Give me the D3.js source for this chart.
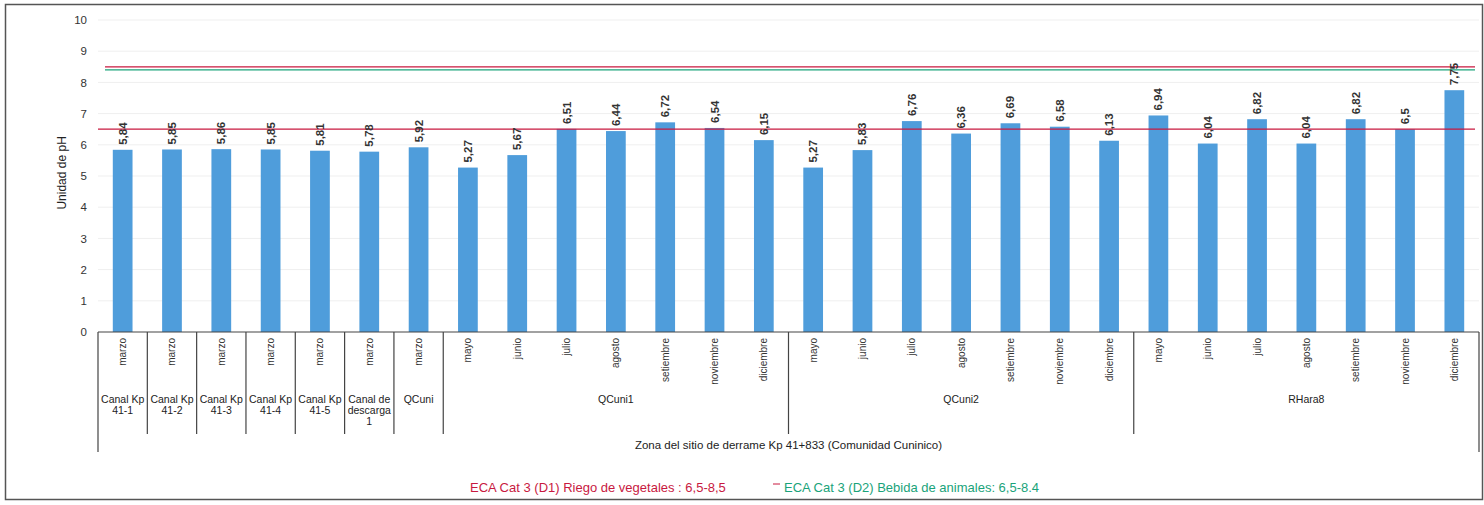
<!DOCTYPE html>
<html>
<head>
<meta charset="utf-8">
<script src="https://cdn.jsdelivr.net/npm/d3@7"></script>
<style>
  body { margin: 0; background: #fff; }
  svg { display: block; font-family: "Liberation Sans", Arial, sans-serif; }
</style>
</head>
<body>
<div id="wrapper"></div>
<script>
// 1. Data
const stations = ["Canal Kp 41-1", "Canal Kp 41-2", "Canal Kp 41-3", "Canal Kp 41-4", "Canal Kp 41-5",
                  "Canal de descarga 1", "QCuni", "QCuni1", "QCuni2", "RHara8"]
const stationLines = [["Canal Kp", "41-1"], ["Canal Kp", "41-2"], ["Canal Kp", "41-3"], ["Canal Kp", "41-4"],
                      ["Canal Kp", "41-5"], ["Canal de", "descarga", "1"], ["QCuni"], ["QCuni1"], ["QCuni2"], ["RHara8"]]
const stationMonths = [
  ["marzo"], ["marzo"], ["marzo"], ["marzo"], ["marzo"], ["marzo"], ["marzo"],
  ["mayo", "junio", "julio", "agosto", "setiembre", "noviembre", "diciembre"],
  ["mayo", "junio", "julio", "agosto", "setiembre", "noviembre", "diciembre"],
  ["mayo", "junio", "julio", "agosto", "setiembre", "noviembre", "diciembre"]
]
const phValues = [
  [5.84], [5.85], [5.86], [5.85], [5.81], [5.78], [5.92],
  [5.27, 5.67, 6.51, 6.44, 6.72, 6.54, 6.15],
  [5.27, 5.83, 6.76, 6.36, 6.69, 6.58, 6.13],
  [6.94, 6.04, 6.82, 6.04, 6.82, 6.5, 7.75]
]
const yTicks = [0, 1, 2, 3, 4, 5, 6, 7, 8, 9, 10]
const zoneLabel = "Zona del sitio de derrame Kp 41+833  (Comunidad Cuninico)"
const limits = [
  {name: "ECA Cat 3 (D1) Riego de vegetales : 6,5-8,5", low: 6.5, high: 8.5, color: "#c8193f"},
  {name: "ECA Cat 3 (D2) Bebida de animales: 6,5-8.4", low: 6.5, high: 8.4, color: "#1aa37a"}
]

// flatten into one row per bar
const dataset = []
stations.forEach((s, i) => {
  stationMonths[i].forEach((m, j) => {
    dataset.push({key: s + "|" + m, station: s, month: m, value: phValues[i][j]})
  })
})

// 2. Dimensions
const dimensions = {
  width: 1484,
  height: 505,
  margin: {top: 20, right: 5, bottom: 173, left: 98},
}
dimensions.boundedWidth = 1479 - dimensions.margin.left
dimensions.boundedHeight = 332 - dimensions.margin.top

// 3. Canvas
const wrapper = d3.select("#wrapper")
  .append("svg")
  .attr("width", dimensions.width)
  .attr("height", dimensions.height)

wrapper.append("rect")
  .attr("x", 5.5).attr("y", 4.5)
  .attr("width", 1477).attr("height", 495)
  .attr("fill", "none")
  .attr("stroke", "#555")
  .attr("stroke-width", 1.5)

const bounds = wrapper.append("g")
  .attr("transform", `translate(${dimensions.margin.left},${dimensions.margin.top})`)

// 4. Scales
const xScale = d3.scaleBand()
  .domain(dataset.map(d => d.key))
  .range([0, dimensions.boundedWidth])
  .paddingInner(0.6)
  .paddingOuter(0.3)

const yScale = d3.scaleLinear()
  .domain([0, 10])
  .range([dimensions.boundedHeight, 0])

const step = xScale.step()

// gridlines
bounds.append("g")
  .selectAll("line")
  .data(yTicks.slice(1))
  .join("line")
  .attr("x1", 0).attr("x2", dimensions.boundedWidth)
  .attr("y1", d => yScale(d)).attr("y2", d => yScale(d))
  .attr("stroke", "#efefef")

// 5. Bars
bounds.append("g")
  .selectAll("rect")
  .data(dataset)
  .join("rect")
  .attr("x", d => xScale(d.key))
  .attr("y", d => yScale(d.value))
  .attr("width", xScale.bandwidth())
  .attr("height", d => yScale(0) - yScale(d.value))
  .attr("fill", "#4f9ddb")

// limit lines
const lineX0 = 0, lineX1 = dimensions.boundedWidth - 4
bounds.append("line")
  .attr("x1", lineX0 + 7).attr("x2", lineX1)
  .attr("y1", yScale(limits[0].high)).attr("y2", yScale(limits[0].high))
  .attr("stroke", limits[0].color).attr("stroke-width", 1.3)
bounds.append("line")
  .attr("x1", lineX0 + 7).attr("x2", lineX1)
  .attr("y1", yScale(limits[1].high)).attr("y2", yScale(limits[1].high))
  .attr("stroke", limits[1].color).attr("stroke-width", 1.3)
bounds.append("line")
  .attr("x1", lineX0).attr("x2", lineX1)
  .attr("y1", yScale(limits[0].low)).attr("y2", yScale(limits[0].low))
  .attr("stroke", limits[0].color).attr("stroke-width", 1.3)

// data labels
bounds.append("g")
  .selectAll("text")
  .data(dataset)
  .join("text")
  .attr("transform", d => `translate(${xScale(d.key) + xScale.bandwidth() / 2 + 4},${yScale(d.value) - 5}) rotate(-90)`)
  .attr("font-family", "'Liberation Sans Narrow', 'Arial Narrow', 'Liberation Sans', sans-serif")
  .attr("font-size", 11.5)
  .attr("font-weight", "bold")
  .attr("fill", "#333")
  .text(d => String(d.value).replace(".", ","))

// 6. Axes
const yAxisGenerator = d3.axisLeft(yScale)
  .tickValues(yTicks)
  .tickSize(0)
  .tickPadding(11)
const yAxis = bounds.append("g").call(yAxisGenerator)
yAxis.select(".domain").remove()
yAxis.selectAll("text")
  .attr("font-size", 11.5)
  .attr("font-family", "'Liberation Sans', Arial, sans-serif")
  .attr("fill", "#333")

yAxis.append("text")
  .attr("transform", `translate(-32,${yScale(5.1)}) rotate(-90)`)
  .attr("text-anchor", "middle")
  .attr("fill", "#222")
  .attr("font-size", 12)
  .text("Unidad de pH")

// category axis: baseline, month labels, separators
const catAxis = bounds.append("g")
  .attr("transform", `translate(0,${dimensions.boundedHeight})`)

catAxis.append("line")
  .attr("x1", 0).attr("x2", dimensions.boundedWidth)
  .attr("stroke", "#444").attr("stroke-width", 1.2)

catAxis.selectAll(".month")
  .data(dataset)
  .join("text")
  .attr("class", "month")
  .attr("transform", d => `translate(${xScale(d.key) + xScale.bandwidth() / 2 + 3.5},6) rotate(-90)`)
  .attr("text-anchor", "end")
  .attr("font-size", 10)
  .attr("fill", "#333")
  .text(d => d.month)

// station boundaries
const groups = []
let idx = 0
stations.forEach((s, i) => {
  groups.push({station: s, lines: stationLines[i], start: idx, end: idx + stationMonths[i].length})
  idx += stationMonths[i].length
})
const edgeX = n => n * step

catAxis.selectAll(".sep")
  .data(d3.range(0, dataset.length + 1).filter(n => groups.some(b => b.start === n) || n === dataset.length))
  .join("line")
  .attr("class", "sep")
  .attr("x1", n => edgeX(n)).attr("x2", n => edgeX(n))
  .attr("y1", 0)
  .attr("y2", n => (n === 0 || n === dataset.length) ? 120 : 102)
  .attr("stroke", "#444").attr("stroke-width", 1.2)

catAxis.selectAll(".station")
  .data(groups)
  .join("text")
  .attr("class", "station")
  .attr("x", b => (edgeX(b.start) + edgeX(b.end)) / 2)
  .attr("y", 71)
  .attr("text-anchor", "middle")
  .attr("font-size", 10.5)
  .attr("fill", "#222")
  .selectAll("tspan")
  .data(b => b.lines.map((t, k) => ({t, k, x: (edgeX(b.start) + edgeX(b.end)) / 2})))
  .join("tspan")
  .attr("x", d => d.x)
  .attr("dy", d => d.k === 0 ? 0 : 11)
  .text(d => d.t)

catAxis.append("text")
  .attr("x", dimensions.boundedWidth / 2)
  .attr("y", 117)
  .attr("text-anchor", "middle")
  .attr("font-size", 11.5)
  .attr("fill", "#222")
  .text(zoneLabel)

// 7. Legend
const legend = wrapper.append("g").attr("transform", "translate(0,492)")
legend.append("text")
  .attr("x", 470)
  .attr("font-size", 13)
  .attr("fill", limits[0].color)
  .text(limits[0].name)
legend.append("line")
  .attr("x1", 773).attr("x2", 780)
  .attr("y1", -8).attr("y2", -8)
  .attr("stroke", limits[0].color)
legend.append("text")
  .attr("x", 784)
  .attr("font-size", 13)
  .attr("fill", limits[1].color)
  .text(limits[1].name)
</script>
</body>
</html>
